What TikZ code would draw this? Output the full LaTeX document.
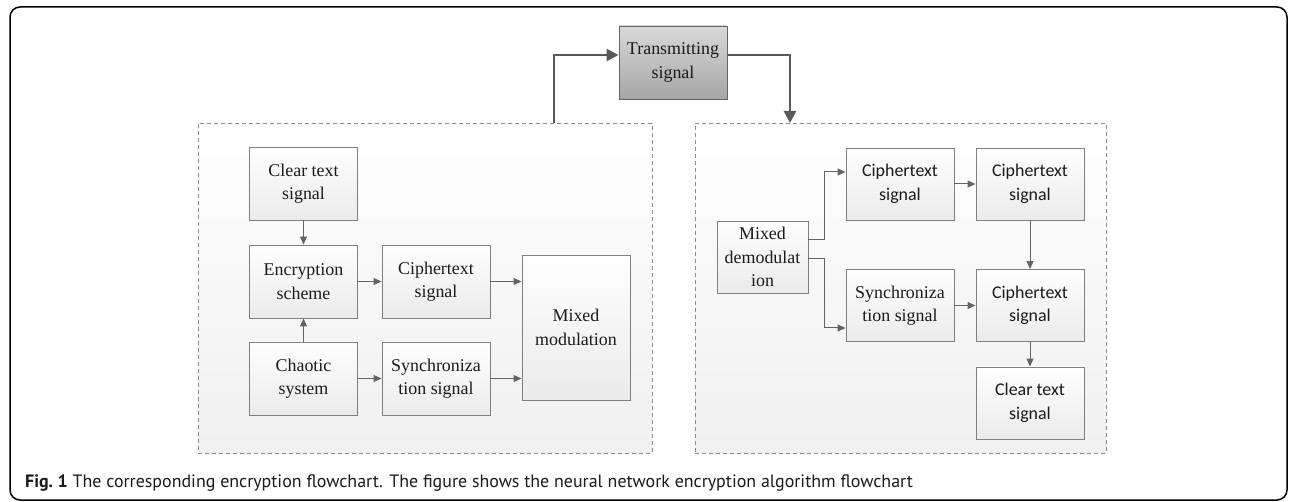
\documentclass[tikz,border=0pt]{standalone}
\usepackage{fontspec}
\setmainfont{Liberation Serif}
\newfontfamily\calib{Carlito}
\newfontfamily\capfont{PT Sans}
\usetikzlibrary{arrows.meta,shadings}
\definecolor{boxline}{HTML}{7F7F7F}
\definecolor{arrcol}{HTML}{646464}
\definecolor{thickcol}{HTML}{595959}
\definecolor{dashcol}{HTML}{8C8C8C}
\definecolor{txt}{HTML}{1A1A1A}
\tikzset{
  stepbox/.style={draw=boxline, line width=0.9bp, top color=white, bottom color=black!8,
    minimum width=108bp, minimum height=73bp, inner sep=0pt, align=center,
    text=txt, font=\fontsize{18}{23.5}\selectfont},
  calbox/.style={stepbox, font=\calib\fontsize{18}{23.5}\selectfont},
  transbox/.style={stepbox, draw=black!60, top color=black!15, bottom color=black!35},
  dbox/.style={draw=dashcol, line width=0.9bp, dash pattern=on 4bp off 3bp,
    top color=white, bottom color=black!6, inner sep=0pt},
  arr/.style={draw=arrcol, line width=1bp, -{Triangle[length=8bp,width=7bp]}},
  thickarr/.style={draw=thickcol, line width=2.6bp, -{Triangle[length=12bp,width=12bp]}},
}
\begin{document}
\begin{tikzpicture}[x=1bp,y=-1bp]
\useasboundingbox (0,0) rectangle (1292,502);
\fill[white] (0,0) rectangle (1292,502);
\draw[line width=1.5bp, rounded corners=10bp] (10,7) rectangle (1287,500);

% dashed group boxes
\node[dbox, minimum width=454bp, minimum height=330bp] (L) at (425,288) {};
\node[dbox, minimum width=411bp, minimum height=330bp] (R) at (900.5,288) {};

% top node
\node[transbox] (trans) at (673,62.5) {Transmitting\\signal};

% left group
\node[stepbox] (clear1) at (303.5,183.5) {Clear text\\signal};
\node[stepbox] (enc) at (303.5,281.5) {Encryption\\scheme};
\node[stepbox] (ciphL) at (436,281.5) {Ciphertext\\signal};
\node[stepbox] (chaos) at (303.5,378.5) {Chaotic\\system};
\node[stepbox] (syncL) at (436,378.5) {Synchroniza\\tion signal};
\node[stepbox, minimum height=145bp] (mixmod) at (576,327.5) {Mixed\\modulation};

% right group
\node[stepbox, minimum width=91bp, minimum height=72bp] (demod) at (762.5,257) {Mixed\\demodulat\\ion};
\node[calbox, minimum height=72bp] (ciph1) at (900,184) {Ciphertext\\signal};
\node[calbox, minimum height=72bp] (ciph2) at (1030,184) {Ciphertext\\signal};
\node[stepbox, minimum height=72bp] (syncR) at (900,305.5) {Synchroniza\\tion signal};
\node[calbox, minimum height=72bp] (ciph3) at (1030,305.5) {Ciphertext\\signal};
\node[calbox, minimum height=72bp] (clear2) at (1030,403) {Clear text\\signal};

% left arrows
\draw[arr] (clear1) -- (enc);
\draw[arr] (chaos) -- (enc);
\draw[arr] (enc) -- (ciphL);
\draw[arr] (chaos) -- (syncL);
\draw[arr] (ciphL.east) -- (ciphL.east -| mixmod.west);
\draw[arr] (syncL.east) -- (syncL.east -| mixmod.west);

% right arrows
\draw[arr] ([shift={(0,-17)}]demod.east) -- ++(16,0) |- ([shift={(0,-12)}]ciph1.west);
\draw[arr] ([shift={(0,2)}]demod.east) -- ++(16,0) |- ([shift={(0,22.5)}]syncR.west);
\draw[arr] (ciph1) -- (ciph2);
\draw[arr] (ciph2) -- (ciph3);
\draw[arr] (syncR) -- (ciph3);
\draw[arr] (ciph3) -- (clear2);

% thick transmission arrows
\coordinate (lt) at (554,123);
\coordinate (rt) at (790,123);
\draw[thickarr] (lt) |- ([shift={(0,-7.5)}]trans.west);
\draw[thickarr] ([shift={(0,-7.5)}]trans.east) -| (rt);

% caption
\node[anchor=base west, inner sep=0pt, text=txt] (cap) at (25,487)
  {\capfont\fontsize{18}{22}\selectfont\textbf{Fig.~1} The corresponding encryption flowchart. The figure shows the neural network encryption algorithm flowchart};
\end{tikzpicture}
\end{document}
